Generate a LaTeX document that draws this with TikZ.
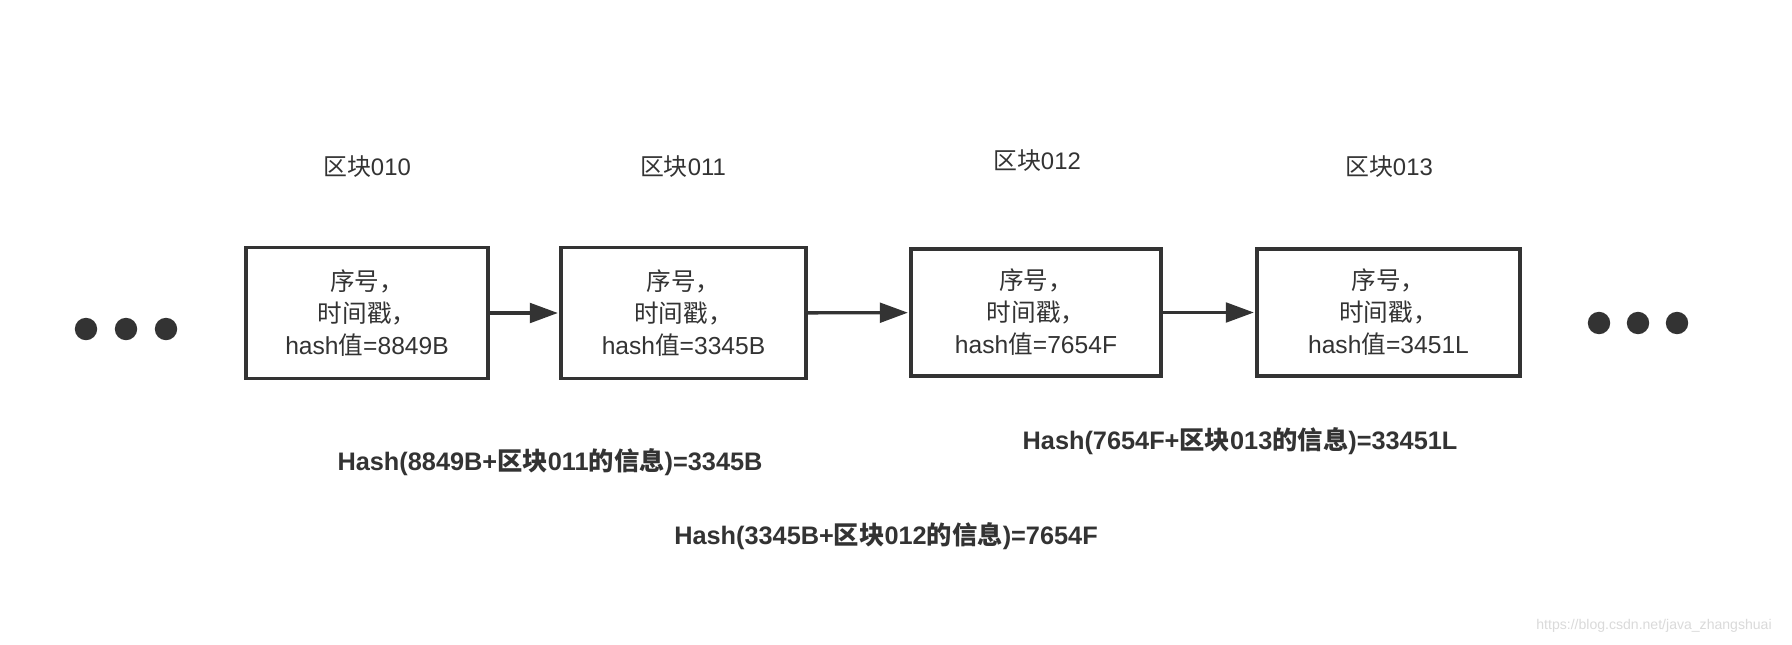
\documentclass[tikz,border=0pt]{standalone}
\usepackage{fontspec}
\setmainfont{Liberation Sans}
\newfontfamily\cjk{Noto Sans CJK SC}
\usepackage{xcolor}
\usetikzlibrary{arrows.meta,positioning}
\definecolor{ink}{HTML}{333333}
\definecolor{mark}{HTML}{DADADA}
\tikzset{
  blk/.style={draw=ink,line width=2.4pt,fill=white,align=center,inner sep=0pt,
    text=ink,font=\fontsize{17.5}{22.8}\selectfont},
  blabel/.style={text=ink,font=\fontsize{17}{20}\selectfont},
  hlabel/.style={text=ink,font=\fontsize{18}{20}\selectfont\bfseries},
  barr/.style={-{Triangle[length=20pt,width=14pt]},line width=2.4pt,draw=ink,shorten >=1pt},
  bdot/.style={fill=ink}
}
\begin{document}
\begin{tikzpicture}[x=0.025cm,y=-0.025cm]
  \useasboundingbox[fill=white] (0,0) rectangle (1792,644);
  % blocks
  \node[blk,minimum width=6.05cm,minimum height=3.275cm] (b10) at (367,313) {{\cjk 序号，}\\{\cjk 时间戳，}\\hash{\cjk 值}=8849B};
  \node[blk,minimum width=6.125cm,minimum height=3.275cm] (b11) at (683.5,313) {{\cjk 序号，}\\{\cjk 时间戳，}\\hash{\cjk 值}=3345B};
  \node[blk,minimum width=6.25cm,minimum height=3.175cm] (b12) at (1036,312.5) {{\cjk 序号，}\\{\cjk 时间戳，}\\hash{\cjk 值}=7654F};
  \node[blk,minimum width=6.575cm,minimum height=3.175cm] (b13) at (1388.5,312.5) {{\cjk 序号，}\\{\cjk 时间戳，}\\hash{\cjk 值}=3451L};
  \draw[barr] (b10) -- (b11);
  \draw[barr] (b11) -- (b12);
  \draw[barr] (b12) -- (b13);
  % titles
  \node[blabel] (t10) at (367,167) {{\cjk 区块}010};
  \node[blabel] (t11) at (683,167) {{\cjk 区块}011};
  \node[blabel] (t12) at (1037,161) {{\cjk 区块}012};
  \node[blabel] (t13) at (1389,167) {{\cjk 区块}013};
  % hash relations
  \node[hlabel] (h11) at (550,462) {Hash(8849B+{\cjk 区块}011{\cjk 的信息})=3345B};
  \node[hlabel] (h13) at (1240,441) {Hash(7654F+{\cjk 区块}013{\cjk 的信息})=33451L};
  \node[hlabel] (h12) at (886,536) {Hash(3345B+{\cjk 区块}012{\cjk 的信息})=7654F};
  % dots
  \foreach \x in {86,126,166} \fill[bdot] (\x,329) circle (0.28cm);
  \foreach \x in {1599,1638,1677} \fill[bdot] (\x,323) circle (0.28cm);
  \node[text=mark,font=\fontsize{10}{11}\selectfont] (wm) at (1654,626) {https://blog.csdn.net/java\_zhangshuai};
\end{tikzpicture}
\end{document}
